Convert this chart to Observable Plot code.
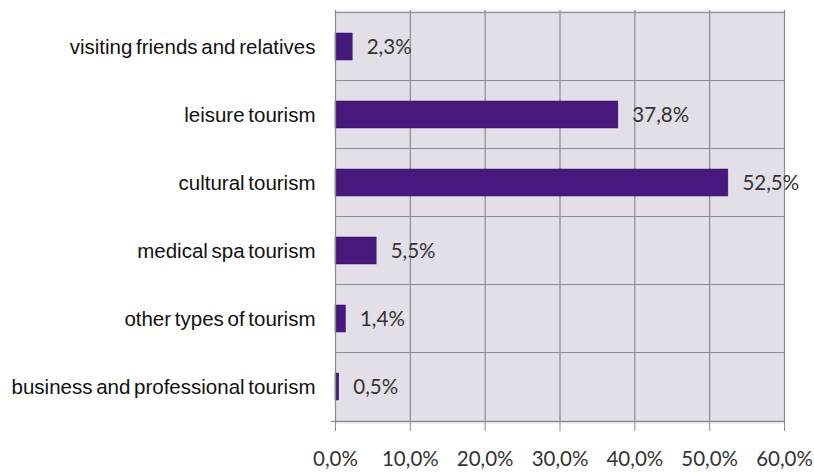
<!DOCTYPE html>
<html>
<head>
<meta charset="utf-8">
<script src="https://cdn.jsdelivr.net/npm/d3@7"></script>
<script src="https://cdn.jsdelivr.net/npm/@observablehq/plot@0.6"></script>
<style>
  html, body { margin: 0; padding: 0; background: #fff; }
  #chart { width: 814px; height: 472px; }
  .cat text { font-family: "Liberation Sans", Arial, sans-serif; word-spacing: -2px; }
</style>
</head>
<body>
<div id="chart"></div>
<script>
const categories = [
  "visiting friends and relatives",
  "leisure tourism",
  "cultural tourism",
  "medical spa tourism",
  "other types of tourism",
  "business and professional tourism"
];
const values = [2.3, 37.8, 52.5, 5.5, 1.4, 0.5];
const xTicks = [0, 10, 20, 30, 40, 50, 60];

const data = categories.map((c, i) => ({category: c, value: values[i]}));
const fmt = v => v.toFixed(1).replace(".", ",") + "%";
const bandStep = (472 - 10 - 49) / categories.length;

const plot = Plot.plot({
  width: 814,
  height: 472,
  marginLeft: 335,
  marginRight: 30,
  marginTop: 10,
  marginBottom: 49,
  style: {background: "#fff", overflow: "visible"},
  x: {domain: [0, 60], ticks: xTicks},
  y: {domain: categories, paddingInner: 0.6, paddingOuter: 0.3, align: 0.5},
  marks: [
    Plot.frame({fill: "#e3dfe8", stroke: null}),
    Plot.ruleX(xTicks.slice(1), {stroke: "#8a8a8a", strokeWidth: 1.2}),
    Plot.barX(data, {y: "category", x: "value", fill: "#47197c", stroke: "#3a1266", strokeWidth: 0.5}),
    Plot.text(data, {
      y: "category", x: "value", text: d => fmt(d.value),
      textAnchor: "start", dx: 14, fontSize: 20.5,
      fontFamily: "Lato, 'Open Sans', sans-serif", fill: "#333"
    }),
    // boundary ticks on category axis
    Plot.tickY(categories, {y: d => d, x1: -0.55, x2: 0, dy: -bandStep / 2, stroke: "#8a8a8a"}),
    Plot.ruleY(categories.slice(-1), {y: d => d, x1: -0.55, x2: 60, dy: bandStep / 2, stroke: "#8a8a8a", strokeWidth: 1.2}),
    Plot.ruleX([0], {stroke: "#8a8a8a", strokeWidth: 1.2}),
    Plot.axisX({
      ticks: xTicks, tickSize: 8, tickPadding: 20, stroke: "#8a8a8a",
      tickFormat: fmt, fontSize: 20.5, fontFamily: "Lato, 'Open Sans', sans-serif",
      color: "#333", label: null
    }),
    Plot.axisY({
      tickSize: 0, tickPadding: 20, fontSize: 20.5,
      fontFamily: "'Liberation Sans', Arial, sans-serif",
      color: "#111", label: null, className: "cat"
    })
  ]
});
document.getElementById("chart").appendChild(plot);
</script>
</body>
</html>
